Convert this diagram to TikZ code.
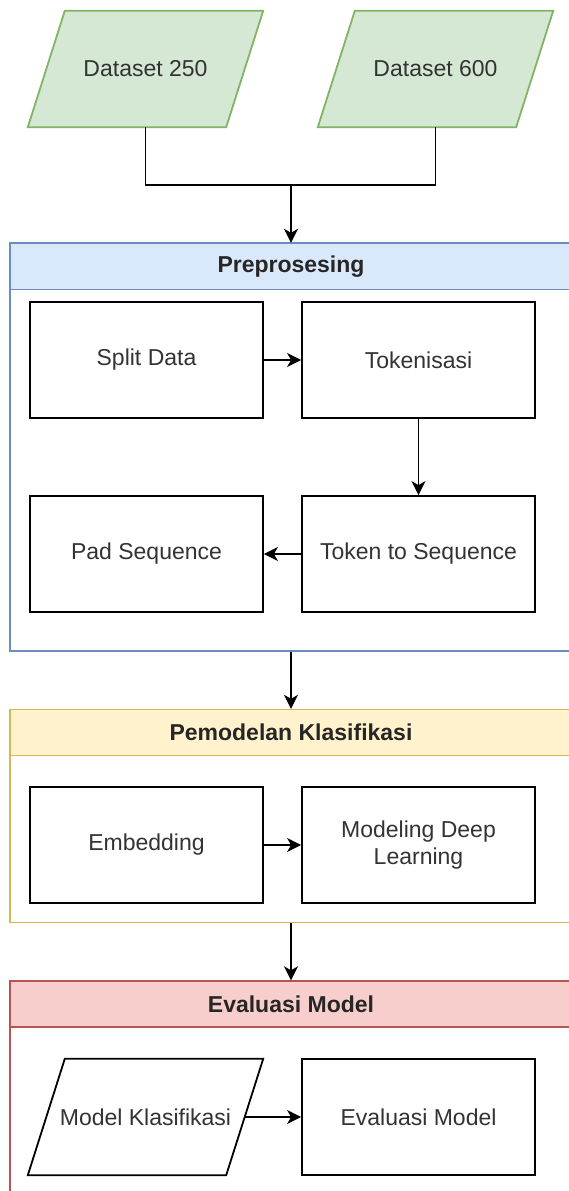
\documentclass[tikz,border=0pt]{standalone}
\usepackage{fontspec}
\setmainfont{Liberation Sans}
\usepackage{tikz}
\usetikzlibrary{arrows.meta,positioning,backgrounds}
\definecolor{dsgreen}{HTML}{D5E8D4}
\definecolor{dsgreenline}{HTML}{82B366}
\definecolor{preblue}{HTML}{DAE8FC}
\definecolor{prebline}{HTML}{6C8EBF}
\definecolor{pemyellow}{HTML}{FFF2CC}
\definecolor{pemyline}{HTML}{D6B656}
\definecolor{evred}{HTML}{F8CECC}
\definecolor{evrline}{HTML}{B85450}
\definecolor{txtgray}{HTML}{333333}

\tikzset{
    txt/.style={font=\fontsize{23}{27}\selectfont, text=txtgray, align=center},
    procbox/.style={txt, draw=black, fill=white, line width=1.8pt,
        minimum width=233pt, minimum height=116pt, inner sep=0pt},
    databox/.style={txt, minimum width=235pt, minimum height=116pt, inner sep=0pt},
    slanted/.style={line width=1.8pt, line join=miter},
    container/.style={line width=1.4pt, minimum width=562pt, inner sep=0pt},
    header/.style={font=\fontsize{23}{27}\selectfont\bfseries, text=black!85,
        line width=1.4pt, minimum width=562pt, minimum height=46pt, inner sep=0pt},
    arrow/.style={line width=1.8pt, -{Stealth[length=14pt,width=14pt,inset=4pt]}},
    link/.style={line width=1.8pt}
}

\begin{document}
\begin{tikzpicture}[x=1pt,y=-1pt]
    \useasboundingbox (0,0) rectangle (569,1191);

    % Data sources
    \node[databox] (ds250) at (145.5,69) {Dataset 250};
    \node[databox] (ds600) at (435.5,69) {Dataset 600};
    \coordinate (merge) at (291,185);

    % Preprosesing
    \node[container, draw=prebline, minimum height=408pt] (preBox) at (291,447) {};
    \node[header, draw=prebline, fill=preblue] (preHead) at (291,266.5) {Preprosesing};
    \node[procbox] (split) at (146.5,360) {Split Data};
    \node[procbox] (token) at (418.5,360) {Tokenisasi};
    \node[procbox] (pad) at (146.5,554) {Pad Sequence};
    \node[procbox] (tok2seq) at (418.5,554) {Token to Sequence};

    % Pemodelan Klasifikasi
    \node[container, draw=pemyline, minimum height=213pt] (pemBox) at (291,816) {};
    \node[header, draw=pemyline, fill=pemyellow] (pemHead) at (291,732.5) {Pemodelan Klasifikasi};
    \node[procbox] (embed) at (146.5,845) {Embedding};
    \node[procbox] (deep) at (418.5,845) {Modeling Deep\\Learning};

    % Evaluasi Model
    \node[container, draw=evrline, minimum height=240pt] (evBox) at (291,1101) {};
    \node[header, draw=evrline, fill=evred] (evHead) at (291,1004) {Evaluasi Model};
    \node[databox] (model) at (145.5,1117) {Model Klasifikasi};
    \node[procbox] (eval) at (418.5,1117) {Evaluasi Model};

    % parallelogram outlines behind the labels
    \begin{scope}[on background layer]
        \foreach \p/\c/\f in {ds250/dsgreenline/dsgreen, ds600/dsgreenline/dsgreen, model/black/white}
            \draw[slanted, draw=\c, fill=\f] ([xshift=37pt]\p.north west) -- (\p.north east)
                -- ([xshift=-37pt]\p.south east) -- (\p.south west) -- cycle;
    \end{scope}

    % Connectors
    \draw[link] (ds250.south) |- (merge);
    \draw[link] (ds600.south) |- (merge);
    \draw[arrow] (merge) -- (preHead.north);
    \draw[arrow] (split) -- (token);
    \draw[arrow] (token) -- (tok2seq);
    \draw[arrow] (tok2seq) -- (pad);
    \draw[arrow] (preBox.south) -- (pemHead.north);
    \draw[arrow] (embed) -- (deep);
    \draw[arrow] (pemBox.south) -- (evHead.north);
    \draw[arrow] ([xshift=-18.5pt]model.east) -- (eval);
\end{tikzpicture}
\end{document}
